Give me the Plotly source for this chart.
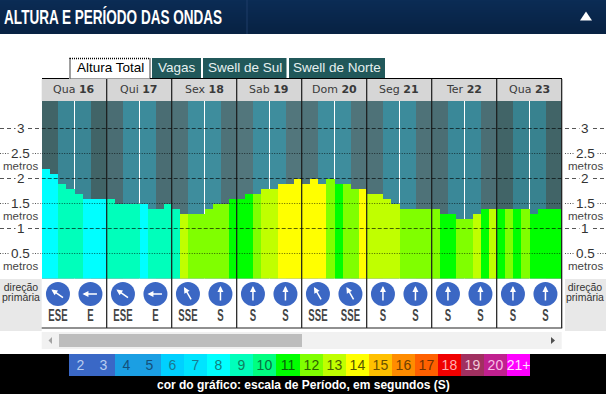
import math
import plotly.graph_objects as go

W, H = 606, 394
# ---- data ----
days = ["Qua", "Qui", "Sex", "Sab", "Dom", "Seg", "Ter", "Qua"]
day_nums = [16, 17, 18, 19, 20, 21, 22, 23]
heights = [2.2, 2.1, 1.9, 1.8, 1.7, 1.6, 1.6, 1.6,
           1.6, 1.5, 1.5, 1.5, 1.5, 1.4, 1.4, 1.5,
           1.4, 1.3, 1.3, 1.3, 1.4, 1.5, 1.5, 1.6,
           1.6, 1.7, 1.7, 1.8, 1.8, 1.9, 1.9, 2.0,
           1.9, 2.0, 1.9, 2.0, 1.9, 1.9, 1.8, 1.8,
           1.7, 1.7, 1.6, 1.5, 1.4, 1.4, 1.4, 1.4,
           1.4, 1.3, 1.3, 1.2, 1.2, 1.3, 1.4, 1.4,
           1.4, 1.4, 1.4, 1.4, 1.3, 1.4, 1.4, 1.4]
periods = [8, 8, 9, 9, 9, 8, 8, 8,
           9, 9, 9, 9, 8, 9, 9, 9,
           9, 13, 12, 12, 12, 12, 12, 11,
           11, 11, 12, 13, 13, 14, 14, 14,
           14, 14, 14, 12, 11, 12, 12, 14,
           13, 13, 13, 13, 12, 12, 12, 12,
           12, 11, 11, 12, 12, 13, 11, 13,
           11, 12, 11, 12, 11, 11, 11, 11]
scale_labels = ["2", "3", "4", "5", "6", "7", "8", "9", "10", "11", "12", "13", "14", "15", "16", "17", "18", "19", "20", "21+"]
scale_colors = ["#3a68c6", "#3a68c6", "#1b9fe3", "#1b9fe3", "#00d0ff", "#00e4ff", "#00ffff", "#00ffbb", "#00ff80", "#00ff00",
                "#80ff00", "#c0ff00", "#ffff00", "#ffc000", "#ff8c00", "#ff6000", "#f00000", "#a03060", "#c0208f", "#ff00ff"]
scale_text = ["#b8cdf0", "#b8cdf0", "#14507a", "#14507a", "#1a7a90", "#1a7a90", "#108080", "#108060", "#087040", "#086008",
              "#2c6000", "#4a6000", "#555500", "#6a5000", "#704000", "#703000", "#ffb0b0", "#f0c8d8", "#f8c0e8", "#ffe0ff"]
dir_labels = ["ESE", "E", "ESE", "E", "SSE", "S", "S", "S", "SSE", "SSE", "S", "S", "S", "S", "S", "S"]
dir_angles = [-55, -90, -55, -90, -30, 0, 0, 0, -30, -30, 0, 0, 0, 0, 0, 0]
band_pattern = ["d", "d", "l", "l", "l", "l", "d", "d"]
dark_shades = ["#416467", "#4a6d73", "#4e7278", "#52767c", "#50747a", "#4e7278", "#4b6e74", "#416467"]
light_shades = ["#3a8594", "#3c8b9b", "#3e8d9d", "#3e8d9d", "#3e8d9d", "#3c8b9b", "#3a8898", "#38828f"]
y_ticks = [3, 2.5, 2, 1.5, 1, 0.5]
tabs = ["Altura Total", "Vagas", "Swell de Sul", "Swell de Norte"]
title = "ALTURA E PERÍODO DAS ONDAS"
scale_caption = "cor do gráfico: escala de Período, em segundos (S)"

# ---- geometry helpers ----
X0, X1, YT, YB = 41.7, 561.7, 101.0, 278.5
px = lambda v: v / W
py = lambda v: 1 - v / H
color_of = dict(zip([2, 3, 4, 5, 6, 7, 8, 9, 10, 11, 12, 13, 14, 15, 16, 17, 18, 19, 20, 21], scale_colors))
n = len(heights)
xs = [i + 0.5 for i in range(n)]
ytop = (YB - YT) / 50.0

band_colors = []
for d in range(len(days)):
    for k in band_pattern:
        band_colors.append(dark_shades[d] if k == "d" else light_shades[d])

fig = go.Figure()
# night/day bands
fig.add_bar(x=xs, y=[ytop] * n, width=1, marker=dict(color=band_colors, line_width=0), xaxis="x", yaxis="y", showlegend=False)
# white noon line
noon = [4 + 8 * d for d in range(len(days))]
fig.add_bar(x=noon, y=[ytop] * len(noon), width=0.1, marker=dict(color="#ffffff", line_width=0), xaxis="x", yaxis="y", showlegend=False)
fig.add_bar(x=xs, y=heights, width=1, marker=dict(color=[color_of[p] for p in periods], line_width=0), xaxis="x", yaxis="y", showlegend=False)

# direction strip
dir_x = [2 + 4 * i for i in range(len(dir_labels))]
fig.add_scatter(x=dir_x, y=[2] * len(dir_x), mode="markers", marker=dict(size=24, color="#3b67c4", line_width=0), xaxis="x2", yaxis="y2", showlegend=False)
fig.add_scatter(x=dir_x, y=[1] * len(dir_x), mode="text", text=dir_labels,
                textfont=dict(family="Liberation Sans", size=16, color="#444444", weight="bold"), xaxis="x2", yaxis="y2", showlegend=False)

# colour scale
fig.add_bar(x=scale_labels, y=[1] * len(scale_labels), width=1, marker=dict(color=scale_colors, line_width=0),
            text=scale_labels, textposition="inside", insidetextanchor="middle", textangle=0,
            textfont=dict(family="Liberation Sans", size=14, color=scale_text), xaxis="x3", yaxis="y3", showlegend=False,
            constraintext="none")

shapes = []
ann = []
def rect(x0, y0, x1, y1, color, layer="below", line=None):
    shapes.append(dict(type="rect", xref="paper", yref="paper", x0=px(x0), x1=px(x1), y0=py(y0), y1=py(y1),
                       fillcolor=color, line=line or dict(width=0), layer=layer))
def hline(x0, x1, y, color, width=1, dash="solid", layer="above"):
    shapes.append(dict(type="line", xref="paper", yref="paper", x0=px(x0), x1=px(x1), y0=py(y), y1=py(y),
                       line=dict(color=color, width=width, dash=dash), layer=layer))
def vline(x, y0, y1, color, width=1, layer="above"):
    shapes.append(dict(type="line", xref="paper", yref="paper", x0=px(x), x1=px(x), y0=py(y0), y1=py(y1),
                       line=dict(color=color, width=width), layer=layer))
def text(x, y, s, size, color, family="Liberation Sans", bold=False, xanchor="center", bg=None):
    a = dict(xref="paper", yref="paper", x=px(x), y=py(y), text=s, showarrow=False, xanchor=xanchor, yanchor="middle",
             font=dict(family=family, size=size, color=color, weight="bold" if bold else "normal"), borderpad=0)
    if bg:
        a["bgcolor"] = bg
    ann.append(a)

# header
for r in range(34):
    t = r / 33
    c = "#%02x%02x%02x" % (int(11 - 3 * t), int(44 - 10 * t), int(85 - 18 * t))
    rect(0, r, W, r + 1, c)
vline(247, 0, 34, "#1e3d68")
text(113, 17, title, 19.5, "#ffffff", "Liberation Sans", True)
shapes.append(dict(type="path", xref="paper", yref="paper",
                   path=f"M {px(580)} {py(20.5)} L {px(592)} {py(20.5)} L {px(586)} {py(11.5)} Z", fillcolor="#ffffff", line_width=0))

# tabs
rect(70, 58.5, 150, 79, "#ffffff", line=dict(color="#000000", width=1.5, dash="1px,1px"))
rect(152, 58, 201, 78, "#21585a")
rect(203, 58, 286.5, 78, "#21585a")
rect(289, 58, 385, 78, "#21585a")
hline(42, 69, 78.5, "#000000")
hline(150, 562, 78.5, "#000000")
for cx, s, col in zip([110, 176.5, 244.5, 337], tabs, ["#000000", "#e6f0f0", "#e6f0f0", "#e6f0f0"]):
    text(cx, 68, s, 13.5, col)

# day header
rect(X0, 79, X1, 101, "#d6d6d6")
for d, (nm, num) in enumerate(zip(days, day_nums)):
    text(X0 + 65 * d + 32.5, 89.5, f"{nm} <b>{num}</b>", 11, "#3a3a3a", "DejaVu Sans")
    vline(X0 + 65 * (d + 1), 79, 328, "#1a1a1a", 1.2)
hline(X0, X1 + 0.5, 328, "#222222", 1.2)

# y grid and tick labels (data coordinates)
for v in y_ticks:
    dash = "4px,2px" if float(v).is_integer() else "1px,1.5px"
    shapes.append(dict(type="line", xref="x", yref="y", x0=0, x1=n, y0=v, y1=v, layer="above", line=dict(color="rgba(0,0,0,0.62)", width=1, dash=dash)))
    for a, b, c in [(0, X0 - 1, 20.5), (565, W, 585)]:
        shapes.append(dict(type="line", xref="paper", yref="y", x0=px(a), x1=px(b), y0=v, y1=v, layer="below", line=dict(color="#555555", width=1, dash="4px,3px" if float(v).is_integer() else dash)))
        ann.append(dict(xref="paper", yref="y", x=px(c), y=v, text=str(v), showarrow=False, xanchor="center", yanchor="middle",
                        bgcolor="#ffffff", borderpad=1, font=dict(family="Liberation Sans", size=13.5, color="#333333")))
        if not float(v).is_integer():
            ann.append(dict(xref="paper", yref="y", x=px(c), y=v, yshift=-12.5, text="metros", showarrow=False, xanchor="center", yanchor="middle",
                            font=dict(family="Liberation Sans", size=11.5, color="#444444")))

# direction side panels
rect(0, 279, X0, 331, "#e8e8e8")
rect(565, 279, W, 331, "#e8e8e8")
for cx in (20.5, 585):
    text(cx, 292, "direção<br>primária", 10.5, "#333333")

# arrows (from direction angles)
for x, ang in zip(dir_x, dir_angles):
    rad = math.radians(ang)
    dx, dy = math.sin(rad), -math.cos(rad)
    ann.append(dict(xref="x2", yref="y2", x=x, y=2, xshift=dx * 8, yshift=-dy * 8, ax=-dx * 16, ay=-dy * 16, axref="pixel", ayref="pixel",
                    text="", showarrow=True, arrowhead=2, arrowsize=0.8, arrowwidth=1.5, arrowcolor="#ffffff", standoff=0))

# scrollbar
rect(X0, 332, X1, 349, "#f1f1f1")
rect(59, 334, 302, 347, "#bdbdbd")
shapes.append(dict(type="path", xref="paper", yref="paper", path=f"M {px(52)} {py(337)} L {px(52)} {py(344)} L {px(48.5)} {py(340.5)} Z", fillcolor="#a3a3a3", line_width=0))
shapes.append(dict(type="path", xref="paper", yref="paper", path=f"M {px(551)} {py(337)} L {px(551)} {py(344)} L {px(555)} {py(340.5)} Z", fillcolor="#505050", line_width=0))

# black footer
rect(0, 354, W, H, "#000000")
text(303, 385, scale_caption, 12, "#ffffff", "Liberation Sans", True)

fig.update_layout(
    width=W, height=H, autosize=False, margin=dict(l=0, r=0, t=0, b=0), paper_bgcolor="#ffffff", plot_bgcolor="rgba(0,0,0,0)",
    barmode="overlay", bargap=0, showlegend=False, shapes=shapes, annotations=ann,
    xaxis=dict(domain=[px(X0), px(X1)], range=[0, n], visible=False, fixedrange=True),
    yaxis=dict(domain=[py(YB), py(YT)], range=[0, ytop], visible=False, fixedrange=True),
    xaxis2=dict(domain=[px(X0), px(X1)], range=[0, n], visible=False, anchor="y2"),
    yaxis2=dict(domain=[py(328), py(279)], range=[0.522, 2.652], visible=False, anchor="x2"),
    xaxis3=dict(domain=[px(69), px(530)], type="category", visible=False, anchor="y3", categoryorder="array", categoryarray=scale_labels),
    yaxis3=dict(domain=[py(376), py(354)], range=[0, 1], visible=False, anchor="x3"),
)
# The reference uses a condensed display face: squeeze the title and direction labels horizontally.
squeeze = """
document.body.style.margin='0';document.body.style.overflow='hidden';
document.querySelectorAll('.annotation-text').forEach(function(t){
  if(t.textContent.indexOf('ALTURA')===0){t.setAttribute('textLength','218');t.setAttribute('lengthAdjust','spacingAndGlyphs');}
  if(t.textContent.indexOf('dire')===0){
    var l=t.querySelectorAll('tspan.line');
    if(l.length==2){var y=parseFloat(l[0].getAttribute('y'));l[0].setAttribute('y',String(y+2));l[1].setAttribute('dy','0');l[1].setAttribute('y',String(y+12));}
  }
});
document.querySelectorAll('.textpoint text').forEach(function(t){
  t.setAttribute('textLength',String(t.getComputedTextLength()*0.6));t.setAttribute('lengthAdjust','spacingAndGlyphs');
});
"""
fig.write_html("out.html", config=dict(displayModeBar=False), post_script=squeeze)
